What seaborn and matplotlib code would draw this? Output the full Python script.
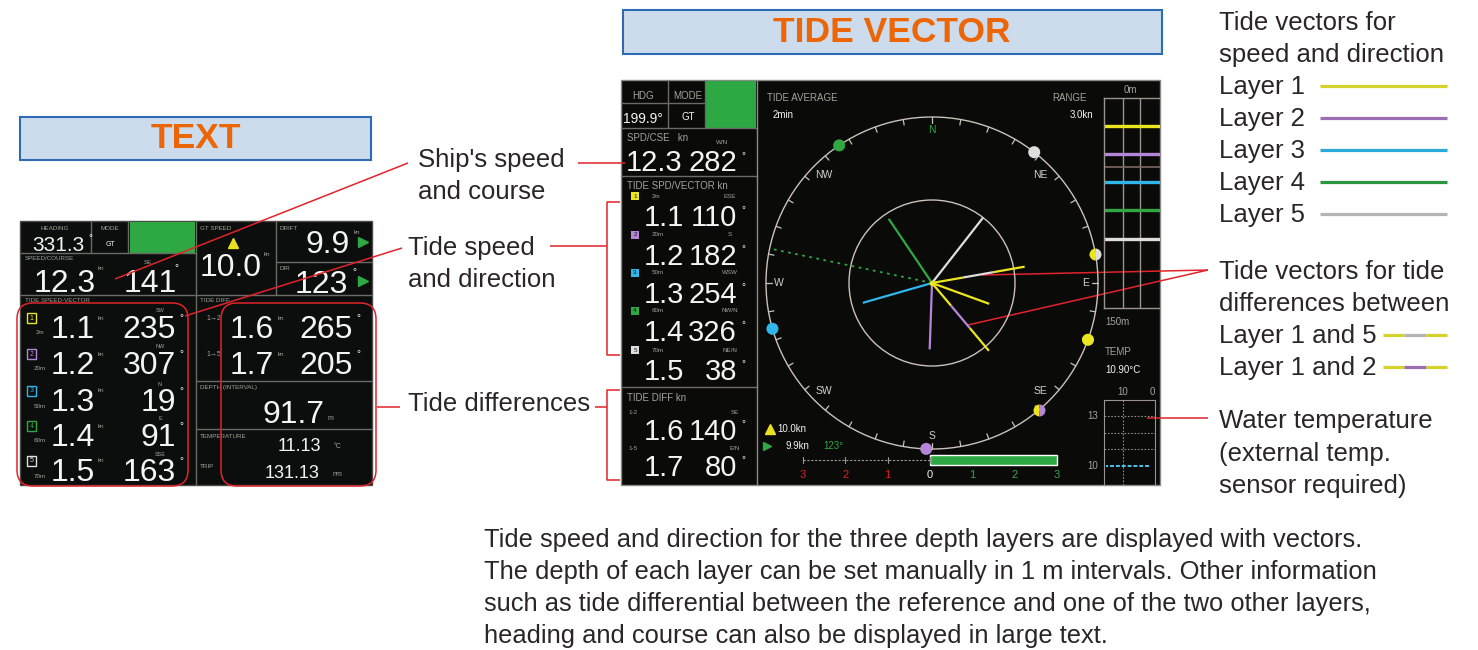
import numpy as np
import matplotlib
matplotlib.use('Agg')
import matplotlib.pyplot as plt
from matplotlib.patches import Rectangle, FancyBboxPatch, Circle
import seaborn as sns

# ---------------- data ----------------
layers = ['Layer 1', 'Layer 2', 'Layer 3', 'Layer 4', 'Layer 5']
legend_colors = ['#d6d22c', '#9a6fb2', '#2aa9da', '#2b9640', '#b4b4b4']
screen_colors = ['#ebe61f', '#b586d8', '#2fb6ea', '#2fa843', '#dedede']
layer_depth = ['2m', '20m', '50m', '60m', '70m']

# TEXT screen values
text_heading = '331.3'
text_spd, text_crs = '12.3', '141'
text_gt_speed = '10.0'
text_drift, text_drift_dir = '9.9', '123'
text_tide_spd = ['1.1', '1.2', '1.3', '1.4', '1.5']
text_tide_dir = ['235', '307', '19', '91', '163']
text_tide_name = ['SW', 'NW', 'N', 'E', 'SSE']
text_diff_pair = ['1\u21922', '1\u21925']
text_diff_spd = ['1.6', '1.7']
text_diff_dir = ['265', '205']
text_depth = '91.7'
text_temp = '11.13'
text_trip = '131.13'

# TIDE VECTOR screen values
vec_heading = '199.9\u00b0'
vec_spd, vec_crs = 12.3, 282
vec_tide_spd = [1.1, 1.2, 1.3, 1.4, 1.5]
vec_tide_dir = [110, 182, 254, 326, 38]
vec_tide_name = ['ESE', 'S', 'WSW', 'NW/N', 'NE/N']
diff_pairs = ['1-2', '1-5']
diff_layers = [(0, 1), (0, 4)]
vec_diff_spd = [1.6, 1.7]
vec_diff_dir = [140, 80]
vec_diff_name = ['SE', 'E/N']
legend_diff_order = [1, 0]
compass_labels = ['N', 'NE', 'E', 'SE', 'S', 'SW', 'W', 'NW']
compass_bearings = [0, 45, 90, 135, 180, 225, 270, 315]
range_kn = 3.0
bar_depth = [20, 40, 60, 80, 101]
ship_depth_mark = 49
temp_now = '10.90'
temp_minutes = [16, 14, 12, 10, 8, 6, 4, 2, 1]
temp_trace = [10.0, 10.0, 10.0, 10.0, 10.0, 10.0, 10.0, 10.0, 10.0]
gt_speed, drift_speed, drift_dir = '10.0', '9.9', '123'
speed_scale = [-3, -2, -1, 0, 1, 2, 3]
speed_bar = 3.0

paragraph = [
    'Tide speed and direction for the three depth layers are displayed with vectors.',
    'The depth of each layer can be set manually in 1 m intervals. Other information',
    'such as tide differential between the reference and one of the two other layers,',
    'heading and course can also be displayed in large text.',
]

# ---------------- style ----------------
sns.set_style('white')
plt.rcParams['font.family'] = ['Liberation Sans', 'DejaVu Sans']

TXT = '#2a2526'
RED = '#e2232b'
ORANGE = '#ec6608'
SCREEN = '#0b0e0c'
GRID = '#6b6a66'
LBL = '#a3a39c'
WHITE = '#f4f4f4'
GREEN = '#2ea843'
RING = '#c9c2b9'

W, H = 1478, 650
fig = plt.figure(figsize=(W / 100, H / 100), dpi=100)
ax = fig.add_axes([0, 0, 1, 1])
ax.set_xlim(0, W)
ax.set_ylim(H, 0)
ax.axis('off')


def rect(x0, y0, x1, y1, fc='none', ec='none', lw=1, z=1):
    ax.add_patch(Rectangle((x0, y0), x1 - x0, y1 - y0, fc=fc, ec=ec, lw=lw, zorder=z))


def line(xs, ys, c=GRID, lw=1, z=2, **kw):
    ax.plot(xs, ys, color=c, lw=lw, zorder=z, solid_capstyle='butt', **kw)


def t(x, y, s, size=5.5, c=LBL, ha='left', va='center', **kw):
    ax.text(x, y, s, fontsize=size, color=c, ha=ha, va=va, zorder=5, **kw)


def big(x, y, s, size=23, ha='center'):
    ax.text(x, y, s, fontsize=size, color=WHITE, ha=ha, va='baseline', zorder=5)


# ---------------- title boxes ----------------
rect(20, 117, 371, 160, fc='#cddcec', ec='#2d6cb5', lw=1.5)
t(196, 139, 'TEXT', size=25.5, c=ORANGE, ha='center', fontweight='bold')
rect(623, 10, 1162, 54, fc='#cddcec', ec='#2d6cb5', lw=1.5)
t(892, 33, 'TIDE VECTOR', size=25.5, c=ORANGE, ha='center', fontweight='bold')

# ---------------- TEXT screen ----------------
rect(20, 221, 372, 485, fc=SCREEN, ec='#4a4a46', lw=1)
rect(130, 222, 195, 253, fc=GREEN, z=2)
line([20, 196], [253, 253])
line([91, 91], [221, 253])
line([128, 128], [221, 253])
line([196, 196], [221, 485])
line([276, 276], [221, 295])
line([276, 372], [262, 262])
line([20, 372], [295, 295])
line([196, 372], [381, 381])
line([196, 372], [429, 429])

t(55, 228, 'HEADING', size=4.5, ha='center')
t(110, 228, 'MODE', size=4.5, ha='center')
big(58, 251, text_heading, size=15)
t(88, 238, '\u00b0', size=7, c=WHITE)
t(110, 244, 'GT', size=5, c=WHITE, ha='center')
t(25, 259, 'SPEED/COURSE', size=4.5)
big(65, 292, text_spd)
t(98, 268, 'kn', size=4.5)
big(150, 292, text_crs)
t(148, 262, 'SE', size=4.5, ha='center')
t(174, 268, '\u00b0', size=7, c=WHITE)

t(200, 228, 'GT SPEED', size=4.5)
ax.plot(233, 243, marker='^', ms=7, color='#e9e21e', zorder=5)
big(231, 276, text_gt_speed)
t(264, 254, 'kn', size=4.5)
t(280, 228, 'DRIFT', size=4.5)
big(350, 253, text_drift, ha='right')
t(354, 232, 'kn', size=4.5)
ax.plot(363, 242, marker='>', ms=7, color=GREEN, zorder=5)
t(280, 268, 'DIR', size=4.5)
big(348, 293, text_drift_dir, ha='right')
t(352, 272, '\u00b0', size=7, c=WHITE)
ax.plot(363, 281, marker='>', ms=7, color=GREEN, zorder=5)

t(25, 301, 'TIDE SPEED-VECTOR', size=4.5)
row_base = [338, 374, 411, 446, 481]
for i in range(5):
    yb = row_base[i]
    c = screen_colors[i]
    ax.add_patch(Rectangle((27, yb - 25), 9, 10, fc='none', ec=c, lw=1, zorder=5))
    t(31.5, yb - 20, str(i + 1), size=5, c=c, ha='center')
    t(40, yb - 5, layer_depth[i], size=4.5, ha='center')
    big(73, yb, text_tide_spd[i])
    t(98, yb - 20, 'kn', size=4.5)
    big(176, yb, text_tide_dir[i], ha='right')
    t(160, yb - 27, text_tide_name[i], size=4, ha='center')
    t(179, yb - 20, '\u00b0', size=7, c=WHITE)

t(200, 301, 'TIDE DIFF', size=4.5)
for i in range(2):
    yb = row_base[i]
    t(206, yb - 20, text_diff_pair[i], size=5)
    big(252, yb, text_diff_spd[i])
    t(278, yb - 20, 'kn', size=4.5)
    big(353, yb, text_diff_dir[i], ha='right')
    t(356, yb - 20, '\u00b0', size=7, c=WHITE)
t(200, 388, 'DEPTH (INTERVAL)', size=4.5)
big(294, 423, text_depth)
t(328, 418, 'm', size=5)
t(200, 436, 'TEMPERATURE', size=4.5)
big(299, 451, text_temp, size=13)
t(334, 447, '\u00b0C', size=5)
t(200, 466, 'TRIP', size=4.5)
big(292, 478, text_trip, size=13)
t(333, 475, 'nm', size=5)

ax.add_patch(FancyBboxPatch((17, 303), 171, 183, boxstyle='round,pad=0,rounding_size=16',
                            fc='none', ec=RED, lw=1.1, zorder=6))
ax.add_patch(FancyBboxPatch((221, 303), 155, 183, boxstyle='round,pad=0,rounding_size=16',
                            fc='none', ec=RED, lw=1.1, zorder=6))

# ---------------- TIDE VECTOR screen ----------------
rect(621, 80, 1160, 485, fc='#0a0a08', ec='#8a8a86', lw=1)
rect(705, 81, 756, 128, fc=GREEN, z=2)
line([668, 668], [80, 128])
line([705, 705], [80, 128])
line([621, 705], [103, 103])
line([621, 757], [128, 128])
line([621, 757], [176, 176])
line([621, 757], [387, 387])
line([757, 757], [80, 485], c='#8a8a86')

t(643, 96, 'HDG', size=7, ha='center')
t(688, 96, 'MODE', size=7, ha='center')
big(643, 123, vec_heading, size=10)
t(688, 117, 'GT', size=7, c=WHITE, ha='center')
t(627, 138, 'SPD/CSE   kn', size=7)
t(722, 142, 'W/N', size=4.5, ha='center')
big(654, 171, f'{vec_spd:.1f}', size=21)
big(737, 171, f'{vec_crs}', size=21, ha='right')
t(741, 156, '\u00b0', size=7, c=WHITE)
t(627, 186, 'TIDE SPD/VECTOR kn', size=7)
vrow = [226, 265, 303, 341, 380]
for i in range(5):
    yb = vrow[i]
    ax.add_patch(Rectangle((631, yb - 34), 8, 8, fc=screen_colors[i], ec='none', zorder=5))
    t(635, yb - 30, str(i + 1), size=4.5, c='#111111', ha='center')
    t(652, yb - 30, layer_depth[i], size=4.5)
    t(730, yb - 30, vec_tide_name[i], size=4.5, ha='center')
    big(664, yb, f'{vec_tide_spd[i]:.1f}', size=21)
    big(737, yb, f'{vec_tide_dir[i]}', size=21, ha='right')
    t(741, yb - 16, '\u00b0', size=7, c=WHITE)
t(627, 398, 'TIDE DIFF kn', size=7)
drow = [440, 476]
for i in range(2):
    yb = drow[i]
    t(628, yb - 28, diff_pairs[i], size=4.5)
    t(735, yb - 28, vec_diff_name[i], size=4.5, ha='center')
    big(664, yb, f'{vec_diff_spd[i]:.1f}', size=21)
    big(737, yb, f'{vec_diff_dir[i]}', size=21, ha='right')
    t(741, yb - 16, '\u00b0', size=7, c=WHITE)

t(767, 98, 'TIDE AVERAGE', size=7)
t(773, 115, '2min', size=7, c=WHITE)
t(1087, 98, 'RANGE', size=7, ha='right')
t(1093, 115, f'{range_kn:.1f}kn', size=7, c=WHITE, ha='right')
t(1130, 90, '0m', size=7, ha='center')
t(1105, 322, '150m', size=7)
t(1105, 352, 'TEMP', size=7)
t(1105, 370, temp_now + '\u00b0C', size=7, c=WHITE)
t(1123, 392, '10', size=7, ha='center')
t(1152, 392, '0', size=7, ha='center')
t(1093, 416, '13', size=7, ha='center')
t(1093, 466, '10', size=7, ha='center')
ax.plot(770, 429, marker='^', ms=7, color='#e9e21e', zorder=5)
t(777, 429, gt_speed + 'kn', size=7, c=WHITE)
ax.plot(767, 446, marker='>', ms=6, color=GREEN, zorder=5)
t(786, 446, drift_speed + 'kn', size=7, c=WHITE)
t(823, 446, drift_dir + '\u00b0', size=7, c=GREEN)

# compass (units: knots)
PXKN = 83 / 1.5
CX, CY, CR = 932, 283, 175
cax = fig.add_axes([(CX - CR) / W, 1 - (CY + CR) / H, 2 * CR / W, 2 * CR / H])
lim = CR / PXKN
cax.set_xlim(-lim, lim)
cax.set_ylim(-lim, lim)
cax.axis('off')
cax.add_patch(Circle((0, 0), range_kn, fill=False, ec=RING, lw=1))
cax.add_patch(Circle((0, 0), range_kn / 2, fill=False, ec=RING, lw=1))
for b in range(0, 360, 10):
    r = np.deg2rad(b)
    cax.plot([range_kn * np.sin(r), (range_kn - 0.1) * np.sin(r)],
             [range_kn * np.cos(r), (range_kn - 0.1) * np.cos(r)], color=RING, lw=0.9)
for lab, b in zip(compass_labels, compass_bearings):
    r = np.deg2rad(b)
    cax.text(2.77 * np.sin(r), 2.77 * np.cos(r), lab, fontsize=7.5,
             color=GREEN if lab == 'N' else '#cfcfcf', ha='center', va='center')

rc = np.deg2rad(vec_crs)
cax.plot([0, range_kn * np.sin(rc)], [0, range_kn * np.cos(rc)], color=GREEN, lw=1.3,
         linestyle=(0, (1.5, 2.5)))

for i in range(5):
    r = np.deg2rad(vec_tide_dir[i])
    cax.plot([0, vec_tide_spd[i] * np.sin(r)], [0, vec_tide_spd[i] * np.cos(r)],
             color=screen_colors[i], lw=1.6, solid_capstyle='butt')
for k in range(2):
    r = np.deg2rad(vec_diff_dir[k])
    a, b2 = diff_layers[k]
    seg_cols = [screen_colors[a], screen_colors[b2], screen_colors[a]]
    for j in range(3):
        f0, f1 = j / 3, (j + 1) / 3
        cax.plot([f0 * vec_diff_spd[k] * np.sin(r), f1 * vec_diff_spd[k] * np.sin(r)],
                 [f0 * vec_diff_spd[k] * np.cos(r), f1 * vec_diff_spd[k] * np.cos(r)],
                 color=seg_cols[j], lw=1.6, solid_capstyle='butt')

dot_x = [range_kn * np.sin(np.deg2rad(d)) for d in vec_tide_dir]
dot_y = [range_kn * np.cos(np.deg2rad(d)) for d in vec_tide_dir]
sns.scatterplot(x=dot_x, y=dot_y, hue=layers, palette=screen_colors, s=75,
                edgecolor='none', legend=False, ax=cax, zorder=5)
for k in range(2):
    r = np.deg2rad(vec_diff_dir[k])
    a, b2 = diff_layers[k]
    cax.plot(range_kn * np.sin(r), range_kn * np.cos(r), 'o', ms=8.6, fillstyle='left',
             mfc=screen_colors[a], mfcalt=screen_colors[b2], mec='none', zorder=5)
cax.plot(0, 0, 'o', ms=3, color=screen_colors[0], zorder=6)

# depth strip
dax = fig.add_axes([1104 / W, 1 - 308 / H, 56 / W, 210 / H])
dax.set_xlim(0, 1)
dax.set_ylim(150, 0)
dax.set_facecolor('none')
dax.set_xticks([])
dax.set_yticks([])
for s in ['left', 'top', 'bottom']:
    dax.spines[s].set_color('#9a948c')
    dax.spines[s].set_linewidth(1)
dax.spines['right'].set_visible(False)
dax.axvline(0.34, color='#9a948c', lw=1)
dax.axvline(0.64, color='#9a948c', lw=1)
dax.axhline(ship_depth_mark, color='#7a6a60', lw=1.2)
for d, c in zip(bar_depth, screen_colors):
    dax.axhline(d, color=c, lw=2.4)

# temperature graph
tax = fig.add_axes([1104 / W, 1 - 485 / H, 51 / W, 85 / H])
tax.set_xlim(16.55, -1.03)
tax.set_ylim(8.86, 13.96)
tax.set_facecolor('none')
tax.set_xticks([])
tax.set_yticks([])
for s in ['left', 'top', 'right']:
    tax.spines[s].set_color('#9a948c')
tax.spines['bottom'].set_visible(False)
for yv in [11, 12, 13]:
    tax.axhline(yv, color='#8c8c86', lw=0.8, linestyle=(0, (1.5, 1.5)))
tax.axvline(10, color='#8c8c86', lw=0.8, linestyle=(0, (1.5, 1.5)))
sns.lineplot(x=temp_minutes, y=temp_trace, ax=tax, color='#4fc3ea', lw=1.4,
             linestyle=(0, (2, 1)))

# speed scale
sax = fig.add_axes([790 / W, 1 - 482 / H, 285 / W, 32 / H])
sax.set_xlim(-3.31, 3.43)
sax.set_ylim(32, 0)
sax.axis('off')
sax.barh(10, speed_bar, left=0, height=10, color=GREEN)
sax.plot([-3, 0], [10, 10], color='#9a9a94', lw=0.8, linestyle=(0, (2, 1.5)))
for v in speed_scale:
    if v <= 0:
        sax.plot([v, v], [7, 13], color='#9a9a94', lw=0.8)
    col = '#e02020' if v < 0 else (WHITE if v == 0 else GREEN)
    sax.text(v, 25, str(abs(v)), fontsize=8, color=col, ha='center', va='center')

# ---------------- annotations ----------------
t(418, 160, "Ship's speed", size=18.5, c=TXT)
t(418, 192, 'and course', size=18.5, c=TXT)
t(408, 248, 'Tide speed', size=18.5, c=TXT)
t(408, 280, 'and direction', size=18.5, c=TXT)
t(408, 404, 'Tide differences', size=18.5, c=TXT)
line([115, 408], [279, 163], c=RED, lw=1.1, z=7)
line([578, 625], [163, 163], c=RED, lw=1.1, z=7)
line([185, 402], [316, 248], c=RED, lw=1.1, z=7)
line([550, 607], [246, 246], c=RED, lw=1.1, z=7)
line([620, 607, 607, 620], [202, 202, 355, 355], c=RED, lw=1.1, z=7)
line([377, 400], [407, 407], c=RED, lw=1.1, z=7)
line([595, 607], [407, 407], c=RED, lw=1.1, z=7)
line([620, 607, 607, 620], [390, 390, 480, 480], c=RED, lw=1.1, z=7)
line([982, 1208], [275, 270], c=RED, lw=1.1, z=7)
line([968, 1208], [325, 270], c=RED, lw=1.1, z=7)
line([1147, 1208], [418, 418], c=RED, lw=1.1, z=7)

# right legend
leg_y = [87, 119, 151, 183, 215]
t(1219, 23, 'Tide vectors for', size=18.5, c=TXT)
t(1219, 55, 'speed and direction', size=18.5, c=TXT)
for i in range(5):
    t(1219, leg_y[i], layers[i], size=18.5, c=TXT)
    line([1320, 1447], [leg_y[i] - 1, leg_y[i] - 1], c=legend_colors[i], lw=2.3)
t(1219, 272, 'Tide vectors for tide', size=18.5, c=TXT)
t(1219, 304, 'differences between', size=18.5, c=TXT)
for yy, k in zip([336, 368], legend_diff_order):
    a, b2 = diff_layers[k]
    t(1219, yy, f'Layer {a + 1} and {b2 + 1}', size=18.5, c=TXT)
    cols = [legend_colors[a], legend_colors[b2], legend_colors[a]]
    for j in range(3):
        line([1383 + j * 21.3, 1383 + (j + 1) * 21.3], [yy - 1, yy - 1], c=cols[j], lw=2.3)
t(1219, 421, 'Water temperature', size=18.5, c=TXT)
t(1219, 454, '(external temp.', size=18.5, c=TXT)
t(1219, 486, 'sensor required)', size=18.5, c=TXT)

for i, s in enumerate(paragraph):
    t(484, 540 + 32 * i, s, size=18.4, c=TXT)

fig.savefig('out.png', dpi=100)
